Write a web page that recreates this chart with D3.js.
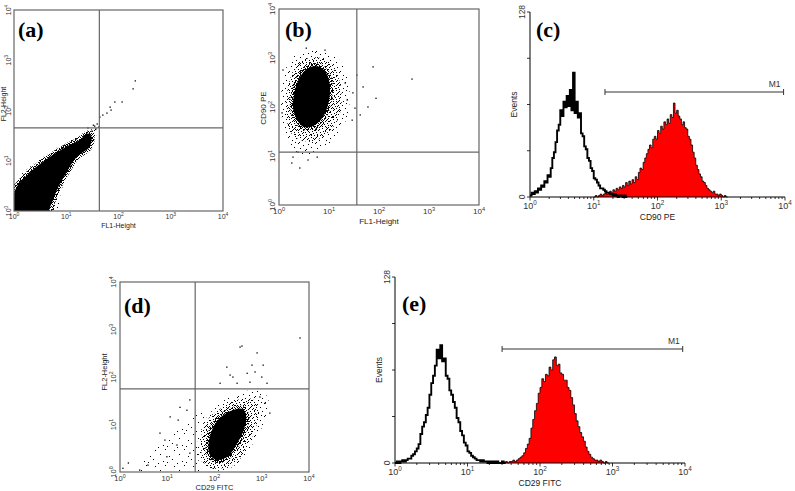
<!DOCTYPE html>
<html>
<head>
<meta charset="utf-8">
<script src="https://cdn.jsdelivr.net/npm/d3@7"></script>
<style>
  body { margin: 0; background: #fff; }
  svg { display: block; }
  text { font-family: "Liberation Sans", Arial, sans-serif; }
  .tag { font-family: "Liberation Serif", "Times New Roman", serif; font-weight: bold; }
</style>
</head>
<body>
<svg id="fig" width="795" height="491"></svg>
<script>
// axis values shared by all panels
const decades = [1, 10, 100, 1000, 10000];
const decadeExp = ["0", "1", "2", "3", "4"];
const eventTicks = [0, 32, 64, 96, 128];

// (a) isotype control, FL1 vs FL2 - [FL1, FL2] values
const aCore = [[1.05, 2.6], [2, 5.8], [4.9, 12], [10, 19], [18, 26], [26, 35], [30, 31], [28, 19],
  [16, 12], [10, 5.8], [6.6, 2.6], [4.9, 1.2], [4.5, 1], [1, 1]];
const aMid = [[1, 3], [2, 6.6], [4.9, 13.5], [10, 21.5], [19, 29.5], [28, 38], [35, 38], [34, 27],
  [24, 18], [15, 10], [9.3, 4.5], [6.4, 1.8], [5.5, 1], [1, 1]];
const aFringe = [[1, 3.5], [2, 7.5], [5, 15], [10, 24], [20, 33], [30, 42], [40, 48], [42, 40],
  [32, 26], [20, 14], [12, 6.5], [8, 2.5], [6.5, 1], [1, 1]];
const aPoints = [[44, 74], [50, 81], [60, 89], [69, 117], [72, 102], [85, 148], [117, 148], [190, 270],
  [209, 389], [35, 49], [39, 54], [42, 47], [33, 51], [37, 43], [31, 39], [26, 45], [28, 34]];
const aGate = [43, 45];

// (b) FL1 vs CD90 PE
const bCore = [[2.0, 176], [2.4, 340], [3.1, 520], [4.8, 680], [7.2, 620], [9.5, 420], [10.5, 222],
  [9.3, 100], [7.0, 56], [4.6, 40], [3.0, 40], [2.2, 60], [1.9, 100]];
const bMid = [[1.4, 150], [1.7, 400], [2.4, 800], [4, 1000], [7, 1000], [12, 700], [16, 360],
  [18, 130], [15, 55], [9.5, 30], [5, 20], [2.8, 21], [1.7, 30], [1.4, 70]];
const bFringe = [[1.1, 139], [1.26, 450], [1.8, 1000], [3.3, 1320], [6.6, 1450], [13, 1150], [21, 570],
  [26, 176], [22, 54], [13, 23], [6.6, 13], [3.3, 10.5], [1.9, 13], [1.26, 34]];
const bPoints = [[3.5, 1590], [8.3, 1450], [1.2, 570], [1.15, 76], [36, 450], [48, 257], [76, 660],
  [87, 151], [457, 372], [60, 100], [42, 69], [33, 95], [29, 54], [1.8, 7.2], [1.9, 9.5], [2.6, 5.7],
  [3.8, 8.3], [5.8, 9.5], [2.4, 12], [23, 139], [21, 309], [30, 195]];
const bGate = [36, 12];

// (d) CD29 FITC vs FL2
const dCore = [[75, 3.9], [98, 9.5], [150, 15.5], [260, 20.5], [400, 21], [470, 14.5], [410, 7.3],
  [290, 3.8], [190, 2.1], [110, 1.8], [80, 2.3]];
const dMid = [[53, 2.6], [55, 7], [78, 14], [150, 23], [310, 33], [640, 34], [860, 22], [760, 9],
  [520, 3.8], [300, 1.6], [150, 1.2], [70, 1.3]];
const dFringe = [[45, 1.8], [45, 4.7], [63, 12.4], [131, 28], [347, 46], [832, 53], [1350, 36],
  [1175, 12.4], [720, 4.7], [400, 2], [213, 1.2], [80, 1.1]];
const dSparse = [[2.1, 1], [4.3, 2.3], [8.9, 4.7], [18.6, 9.8], [39, 20], [63, 26], [49, 4.7], [45, 1]];
const dPoints = [[6450, 665], [380, 450], [347, 427], [795, 322], [620, 178], [182, 162], [1070, 178],
  [720, 128], [245, 100], [490, 120], [1000, 100], [131, 74], [300, 74], [1290, 74], [562, 78],
  [912, 38], [1175, 28], [1480, 17.4], [1.15, 1.2], [1.5, 1.55], [3.9, 1.4], [7.0, 6.6], [8.9, 4.7],
  [11.5, 14.5], [17, 12.4], [18.6, 23], [26, 20], [30, 33], [16, 3.7], [30, 2.5], [9.8, 2.1],
  [2.6, 1.1], [213, 110]];
const dGate = [39, 56];

// histograms: counts per bin, bins 0.025 decade wide, first bin at 10^start
const binStep = 0.025;
const cControlStart = 0;
const cControl = [1, 3, 2, 4, 3, 6, 5, 8, 7, 11,
  10, 15, 14, 20, 27, 31, 38, 46, 50, 60,
  56, 66, 62, 70, 63, 74, 60, 86, 58, 66,
  55, 58, 44, 42, 35, 33, 27, 25, 20, 18,
  13, 12, 10, 8, 6, 6, 5, 4, 3, 3,
  2, 2, 1, 2, 1, 0, 1, 1, 0, 1, 0];
const cStainedStart = 1.0;
const cStained = [0, 1, 0, 1, 2, 1, 2, 3, 2, 3,
  4, 3, 5, 4, 6, 5, 7, 6, 8, 7,
  10, 8, 11, 9, 12, 10, 14, 12, 17, 20,
  19, 24, 27, 30, 33, 36, 34, 40, 42, 40,
  46, 44, 49, 47, 52, 50, 54, 51, 57, 55,
  65, 58, 60, 56, 54, 50, 52, 48, 47, 42,
  40, 36, 31, 27, 22, 19, 16, 14, 11, 10,
  8, 6, 5, 4, 3, 4, 2, 2, 1, 2,
  1, 0, 1, 0];
const cM1 = [15, 9500];

const eControlStart = 0;
const eControl = [0, 1, 0, 1, 2, 1, 2, 3, 3, 5,
  6, 8, 10, 13, 20, 25, 28, 33, 38, 47,
  55, 60, 67, 78, 72, 81, 70, 72, 60, 58,
  50, 47, 42, 38, 31, 28, 22, 19, 14, 12,
  8, 7, 5, 4, 3, 2, 2, 1, 2, 1,
  1, 0, 1, 0, 1, 0, 1, 0, 0, 1, 0];
const eStainedStart = 1.45;
const eStained = [0, 1, 0, 1, 0, 1, 1, 2, 1, 2,
  3, 4, 5, 7, 10, 13, 17, 24, 30, 36,
  41, 48, 52, 58, 56, 61, 60, 66, 64, 71,
  73, 67, 68, 62, 61, 57, 57, 52, 50, 45,
  40, 34, 29, 25, 21, 18, 15, 11, 8, 6,
  4, 3, 2, 2, 1, 2, 1, 0, 1, 0];
const eM1 = [30, 9300];

const svg = d3.select("#fig");
const defs = svg.append("defs");

// dot textures for the less dense parts of the clouds
function stipple(id, w, h, dots) {
  const p = defs.append("pattern").attr("id", id)
    .attr("patternUnits", "userSpaceOnUse").attr("width", w).attr("height", h);
  dots.forEach(([dx, dy]) => p.append("rect").attr("x", dx).attr("y", dy)
    .attr("width", 1).attr("height", 1).attr("fill", "#000"));
}
stipple("dense", 7, 7, [[0, 0], [2, 0], [5, 0], [1, 1], [3, 1], [6, 1], [0, 2], [4, 2], [2, 3], [5, 3],
  [6, 3], [1, 4], [3, 4], [0, 5], [4, 5], [6, 5], [2, 6], [5, 6], [3, 6]]);
stipple("mid", 11, 9, [[1, 0], [6, 0], [9, 1], [3, 2], [7, 3], [0, 3], [10, 4], [4, 5], [8, 6], [1, 6],
  [5, 7], [9, 8], [2, 8], [6, 4], [3, 0], [8, 2]]);
stipple("sparse", 17, 13, [[2, 1], [9, 0], [14, 2], [5, 4], [11, 5], [0, 6], [16, 7], [7, 8], [13, 10],
  [3, 10], [10, 12], [6, 12]]);
stipple("faint", 19, 16, [[3, 2], [13, 1], [8, 6], [17, 8], [1, 11], [11, 13], [6, 15], [15, 14]]);

function decadeText(sel, fs) {
  sel.attr("font-size", fs).attr("fill", "#333").attr("text-anchor", "middle")
    .text("10")
    .append("tspan").attr("dy", -fs * 0.4).attr("font-size", fs * 0.7).text((d, i) => decadeExp[i]);
}

function dotPlot(o) {
  const x = d3.scaleLog().domain([1, 1e4]).range([o.left, o.right]);
  const y = d3.scaleLog().domain([1, 1e4]).range([o.bottom, o.top]);
  const g = svg.append("g");

  defs.append("clipPath").attr("id", o.id).append("rect")
    .attr("x", o.left).attr("y", o.top)
    .attr("width", o.right - o.left).attr("height", o.bottom - o.top);
  const plot = g.append("g").attr("clip-path", `url(#${o.id})`);

  const shape = d3.line().x(d => x(d[0])).y(d => y(d[1])).curve(d3.curveCatmullRomClosed.alpha(0.5));
  if (o.sparse) plot.append("path").attr("d", shape(o.sparse)).attr("fill", "url(#faint)");
  plot.append("path").attr("d", shape(o.fringe)).attr("fill", "url(#sparse)");
  plot.append("path").attr("d", shape(o.mid)).attr("fill", "url(#mid)");
  plot.append("path").attr("d", shape(o.core)).attr("fill", "#000")
    .attr("stroke", "url(#dense)").attr("stroke-width", 6);
  plot.selectAll(null).data(o.points).enter().append("rect")
    .attr("x", d => x(d[0]) - 0.6).attr("y", d => y(d[1]) - 0.6)
    .attr("width", 1.3).attr("height", 1.3).attr("fill", "#000");

  // quadrant markers and frame
  g.append("line").attr("x1", x(o.gate[0])).attr("x2", x(o.gate[0]))
    .attr("y1", o.top).attr("y2", o.bottom).attr("stroke", "#666").attr("stroke-width", 1.2);
  g.append("line").attr("x1", o.left).attr("x2", o.right)
    .attr("y1", y(o.gate[1])).attr("y2", y(o.gate[1])).attr("stroke", "#666").attr("stroke-width", 1.2);
  g.append("rect").attr("x", o.left).attr("y", o.top)
    .attr("width", o.right - o.left).attr("height", o.bottom - o.top)
    .attr("fill", "none").attr("stroke", "#666").attr("stroke-width", 1.2);

  g.selectAll(null).data(decades).enter().append("text")
    .attr("x", d => x(d)).attr("y", o.bottom + o.fs + 1)
    .call(decadeText, o.fs);
  g.selectAll(null).data(decades).enter().append("text")
    .attr("transform", d => `translate(${o.yTickX},${y(d)}) rotate(-90)`)
    .call(decadeText, o.fs);

  g.append("text").attr("x", (o.left + o.right) / 2).attr("y", o.bottom + o.fs * 2 + 3)
    .attr("text-anchor", "middle").attr("font-size", o.fs).attr("fill", "#222").text(o.xTitle);
  g.append("text").attr("transform", `translate(${o.yTitleX},${o.yTitleY}) rotate(-90)`)
    .attr("text-anchor", "middle").attr("font-size", o.fs).attr("fill", "#222").text(o.yTitle);
  g.append("text").attr("class", "tag").attr("x", o.tag[0]).attr("y", o.tag[1])
    .attr("font-size", 22).text(o.label);
}

function histogram(o) {
  const x = d3.scaleLog().domain([1, 1e4]).range([o.left, o.right]);
  const y = d3.scaleLinear().domain([0, 128]).range([o.bottom, o.top]);
  const g = svg.append("g");
  const bins = (start, counts) => counts.map((c, i) => [Math.pow(10, start + i * binStep), c])
    .concat([[Math.pow(10, start + counts.length * binStep), 0]]);

  const area = d3.area().x(d => x(d[0])).y0(y(0)).y1(d => y(d[1])).curve(d3.curveStepAfter);
  const line = d3.line().x(d => x(d[0])).y(d => y(d[1])).curve(d3.curveStepAfter);
  const stained = bins(o.stainedStart, o.stained);
  const control = bins(o.controlStart, o.control);

  g.append("path").attr("d", area(stained)).attr("fill", "#ff0000");
  g.append("path").attr("d", line(stained)).attr("fill", "none").attr("stroke", "#000").attr("stroke-width", 0.8);
  g.append("path").attr("d", line(control)).attr("fill", "none").attr("stroke", "#000").attr("stroke-width", 1.9);

  // axes
  g.append("line").attr("x1", o.left).attr("x2", o.right).attr("y1", y(0)).attr("y2", y(0))
    .attr("stroke", "#000");
  g.append("line").attr("x1", o.left).attr("x2", o.left).attr("y1", y(0)).attr("y2", y(128))
    .attr("stroke", "#000");
  g.selectAll(null).data(x.ticks()).enter().append("line")
    .attr("x1", d => x(d)).attr("x2", d => x(d)).attr("y1", y(0))
    .attr("y2", d => y(0) + (decades.includes(d) ? 3.5 : 2))
    .attr("stroke", "#000").attr("stroke-width", 0.8);
  g.selectAll(null).data(eventTicks).enter().append("line")
    .attr("x1", o.left - 3).attr("x2", o.left).attr("y1", d => y(d)).attr("y2", d => y(d))
    .attr("stroke", "#000").attr("stroke-width", 0.8);

  g.selectAll(null).data(decades).enter().append("text")
    .attr("x", d => x(d)).attr("y", y(0) + 12)
    .call(decadeText, 9);
  g.selectAll(null).data([0, 128]).enter().append("text")
    .attr("transform", d => `translate(${o.left - 5},${y(d)}) rotate(-90)`)
    .attr("text-anchor", "middle").attr("font-size", 8.5).attr("fill", "#333").text(d => d);
  g.append("text").attr("transform", `translate(${o.left - 13},${y(64)}) rotate(-90)`)
    .attr("text-anchor", "middle").attr("font-size", 8.5).attr("fill", "#222").text("Events");
  g.append("text").attr("x", x(100)).attr("y", y(0) + 23)
    .attr("text-anchor", "middle").attr("font-size", 8.5).attr("fill", "#222").text(o.xTitle);

  // M1 marker
  const m = g.append("g").attr("stroke", "#333").attr("stroke-width", 1);
  m.append("line").attr("x1", x(o.m1[0])).attr("x2", x(o.m1[1])).attr("y1", o.m1Y).attr("y2", o.m1Y);
  m.append("line").attr("x1", x(o.m1[0])).attr("x2", x(o.m1[0])).attr("y1", o.m1Y - 3).attr("y2", o.m1Y + 3);
  m.append("line").attr("x1", x(o.m1[1])).attr("x2", x(o.m1[1])).attr("y1", o.m1Y - 3).attr("y2", o.m1Y + 3);
  g.append("text").attr("x", x(o.m1[1]) - 3).attr("y", o.m1Y - 5)
    .attr("text-anchor", "end").attr("font-size", 8.5).attr("fill", "#333").text("M1");

  g.append("text").attr("class", "tag").attr("x", o.tag[0]).attr("y", o.tag[1])
    .attr("font-size", 22).text(o.label);
}

dotPlot({
  id: "clipA", left: 14, right: 223, top: 10, bottom: 211, fs: 7,
  core: aCore, mid: aMid, fringe: aFringe, points: aPoints, gate: aGate,
  yTickX: 11, yTitleX: 6, yTitleY: 104,
  xTitle: "FL1-Height", yTitle: "FL2-Height", label: "(a)", tag: [18, 37]
});
dotPlot({
  id: "clipB", left: 279, right: 479, top: 9, bottom: 205, fs: 8,
  core: bCore, mid: bMid, fringe: bFringe, points: bPoints, gate: bGate,
  yTickX: 275, yTitleX: 266, yTitleY: 108,
  xTitle: "FL1-Height", yTitle: "CD90 PE", label: "(b)", tag: [285, 37]
});
dotPlot({
  id: "clipD", left: 120, right: 309, top: 282, bottom: 472, fs: 7.5,
  core: dCore, mid: dMid, fringe: dFringe, sparse: dSparse, points: dPoints, gate: dGate,
  yTickX: 116, yTitleX: 107, yTitleY: 372,
  xTitle: "CD29 FITC", yTitle: "FL2-Height", label: "(d)", tag: [124, 313]
});
histogram({
  left: 530, right: 785, top: 12, bottom: 197,
  control: cControl, controlStart: cControlStart, stained: cStained, stainedStart: cStainedStart,
  m1: cM1, m1Y: 92, xTitle: "CD90 PE", label: "(c)", tag: [536, 37]
});
histogram({
  left: 395, right: 685, top: 277, bottom: 463,
  control: eControl, controlStart: eControlStart, stained: eStained, stainedStart: eStainedStart,
  m1: eM1, m1Y: 349, xTitle: "CD29 FITC", label: "(e)", tag: [402, 311]
});
</script>
</body>
</html>
